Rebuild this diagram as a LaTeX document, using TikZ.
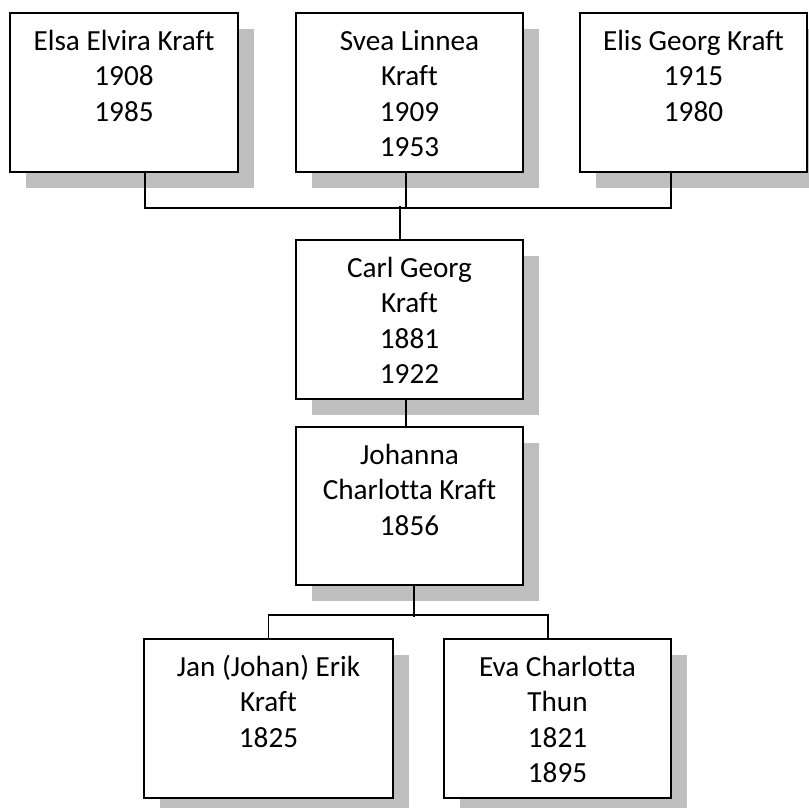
\documentclass[tikz,border=0pt]{standalone}
\usepackage{fontspec}
\setmainfont{Carlito}[Ligatures=NoCommon]
\usetikzlibrary{shadows}
\definecolor{shadowgray}{HTML}{BFBFBF}
\tikzset{
  personbox/.style={draw=black, line width=2pt, fill=white, inner sep=0pt,
    minimum height=159pt,
    drop shadow={shadow xshift=16pt, shadow yshift=-16pt, fill=shadowgray, opacity=1}},
  persontext/.style={anchor=north, inner sep=0pt, align=center,
    font=\fontsize{29.2}{35.5}\selectfont},
  link/.style={draw=black, line width=1.8pt}
}
\begin{document}
\begin{tikzpicture}[x=1pt,y=-1pt]
\useasboundingbox (0,0) rectangle (808,808);
% boxes
\node[personbox, minimum width=228pt] (elsa) at (124,92.5) {};
\node[personbox, minimum width=227pt] (svea) at (409.5,92.5) {};
\node[personbox, minimum width=227pt] (elis) at (693.5,92.5) {};
\node[personbox, minimum width=227pt] (carl) at (409.5,319.5) {};
\node[personbox, minimum width=227pt, minimum height=158pt] (joh) at (409.5,506) {};
\node[personbox, minimum width=249pt] (jan) at (268.5,718.5) {};
\node[personbox, minimum width=227pt] (eva) at (557.5,718.5) {};
% texts
\node[persontext] (telsa) at ([yshift=-13.15pt]elsa.north) {\strut Elsa Elvira Kraft\\1908\\1985};
\node[persontext] (tsvea) at ([yshift=-13.15pt]svea.north) {\strut Svea Linnea\\Kraft\\1909\\1953};
\node[persontext] (telis) at ([yshift=-13.15pt]elis.north) {\strut Elis Georg Kraft\\1915\\1980};
\node[persontext] (tcarl) at ([yshift=-13.15pt]carl.north) {\strut Carl Georg\\Kraft\\1881\\1922};
\node[persontext] (tjoh) at ([yshift=-13.15pt]joh.north) {\strut Johanna\\Charlotta Kraft\\1856};
\node[persontext] (tjan) at ([yshift=-13.15pt]jan.north) {\strut Jan (Johan) Erik\\Kraft\\1825};
\node[persontext] (teva) at ([yshift=-13.15pt]eva.north) {\strut Eva Charlotta\\Thun\\1821\\1895};
% connectors
\draw[link] ([xshift=21pt]elsa.south) -- ++(0,35) -| ([xshift=-22.5pt]elis.south);
\draw[link] ([xshift=-3.5pt]svea.south) -- ++(0,35);
\draw[link] ([xshift=-9.5pt]carl.north) -- ++(0,-33);
\draw[link] ([xshift=-3.5pt]carl.south) -- ([xshift=-3.5pt]joh.north);
\draw[link] ([xshift=4.5pt]joh.south) -- ++(0,31);
\draw[link] (jan.north) -- ++(0,-23) -| ([xshift=-9.5pt]eva.north);
\end{tikzpicture}
\end{document}
